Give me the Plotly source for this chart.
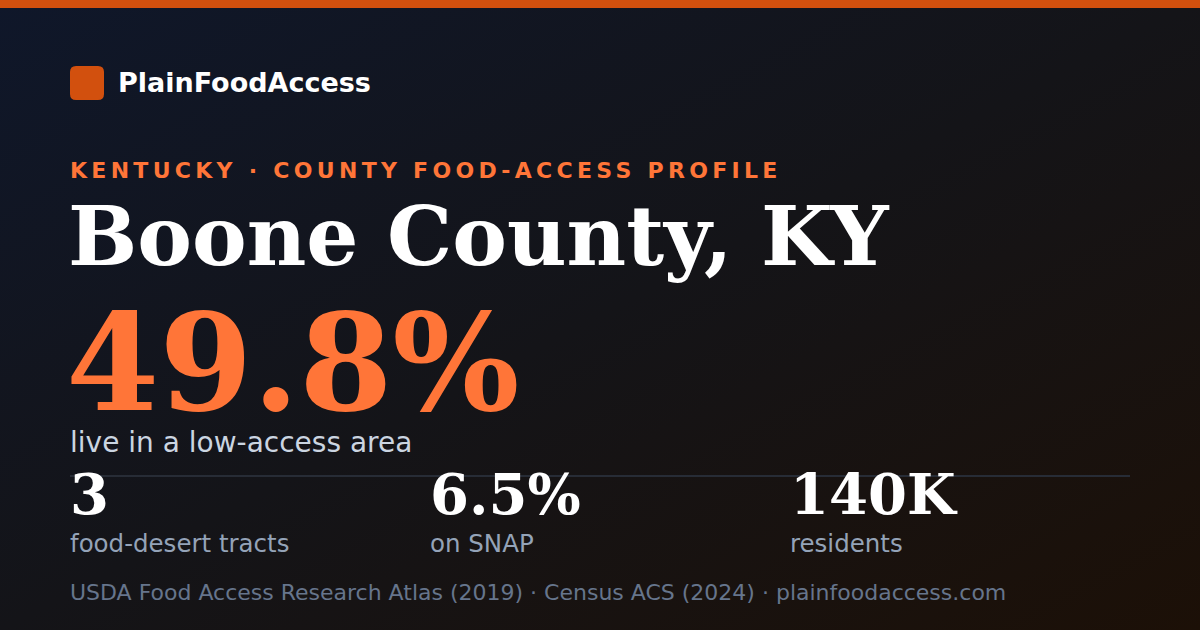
import base64
import plotly.graph_objects as go

# ---------- card content ----------
BRAND = "PlainFoodAccess"
KICKER = "KENTUCKY · COUNTY FOOD-ACCESS PROFILE"
COUNTY = "Boone County, KY"
HEADLINE_VALUE = "49.8%"
HEADLINE_LABEL = "live in a low-access area"
STAT_VALUES = ["3", "6.5%", "140K"]
STAT_LABELS = ["food-desert tracts", "on SNAP", "residents"]
SOURCE = "USDA Food Access Research Atlas (2019) · Census ACS (2024) · plainfoodaccess.com"

W, H = 1200, 630
SANS = "DejaVu Sans, Verdana, sans-serif"
SERIF = "DejaVu Serif, Georgia, serif"
ORANGE = "#d2500e"
ACCENT = "#ff7538"

# background gradient as an svg image
svg = (
    f"<svg xmlns='http://www.w3.org/2000/svg' width='{W}' height='{H}'>"
    "<defs><linearGradient id='g' x1='0' y1='0' x2='1' y2='1'>"
    "<stop offset='0' stop-color='#0f172a'/>"
    "<stop offset='0.5' stop-color='#141418'/>"
    "<stop offset='1' stop-color='#1c1007'/>"
    "</linearGradient></defs>"
    f"<rect width='{W}' height='{H}' fill='url(#g)'/></svg>"
)
bg_src = "data:image/svg+xml;base64," + base64.b64encode(svg.encode()).decode()


def txt(x, baseline, text, size, color, family=SANS, weight="normal"):
    # centre of the text box sits ~0.346em above the baseline for DejaVu
    # annotation box adds ~2px padding on the left, hence x - 2
    return dict(x=x - 2, y=baseline - 0.346 * size, xref="x", yref="y",
                text=text, showarrow=False, xanchor="left", yanchor="middle",
                font=dict(family=family, size=size, color=color, weight=weight))


fig = go.Figure()

annotations = [
    txt(118, 92, BRAND, 27, "#ffffff", weight="bold"),
    txt(70, 178, KICKER, 22, ACCENT, weight="bold"),
    txt(68, 264, COUNTY, 82, "#ffffff", family=SERIF, weight="bold"),
    txt(66, 409, HEADLINE_VALUE, 134, ACCENT, family=SERIF, weight="bold"),
    txt(70, 452, HEADLINE_LABEL, 28, "#cbd5e1"),
    txt(70, 600, SOURCE, 22, "#66758c"),
]
for i, (v, lab) in enumerate(zip(STAT_VALUES, STAT_LABELS)):
    x0 = 70 + 360 * i
    annotations.append(txt(x0, 513, v, 56, "#ffffff", family=SERIF, weight="bold"))
    annotations.append(txt(x0, 552, lab, 24.5, "#94a3b8"))

shapes = [
    # top bar
    dict(type="rect", xref="x", yref="y", x0=0, x1=W, y0=0, y1=8,
         fillcolor=ORANGE, line=dict(width=0), layer="below"),
    # logo square
    dict(type="path", xref="x", yref="y",
         path="M76,66 H98 Q104,66 104,72 V94 Q104,100 98,100 H76 Q70,100 70,94 V72 Q70,66 76,66 Z",
         fillcolor=ORANGE, line=dict(width=0), layer="below"),
    # divider
    dict(type="line", xref="x", yref="y", x0=70, x1=1130, y0=476, y1=476,
         line=dict(color="#272c36", width=2), layer="below"),
]

fig.update_layout(
    width=W, height=H,
    margin=dict(l=0, r=0, t=0, b=0),
    paper_bgcolor="#141418", plot_bgcolor="rgba(0,0,0,0)",
    xaxis=dict(range=[0, W], visible=False, fixedrange=True),
    yaxis=dict(range=[H, 0], visible=False, fixedrange=True),
    showlegend=False,
    annotations=annotations,
    shapes=shapes,
    images=[dict(source=bg_src, xref="paper", yref="paper", x=0, y=1,
                 sizex=1, sizey=1, sizing="stretch", layer="below",
                 xanchor="left", yanchor="top")],
)

# no page margin, and letter spacing for the kicker line (kept left-aligned)
post = """
document.body.style.margin = '0';
document.body.style.background = '#141418';
document.querySelectorAll('text.annotation-text').forEach(function(t){
  if (t.textContent.indexOf('KENTUCKY') === 0) {
    var before = t.getBBox().x;
    t.style.letterSpacing = '0.195em';
    var after = t.getBBox().x;
    t.setAttribute('x', parseFloat(t.getAttribute('x') || 0) + (before - after));
  }
});
"""
fig.write_html("out.html", config={"displayModeBar": False}, post_script=post)
